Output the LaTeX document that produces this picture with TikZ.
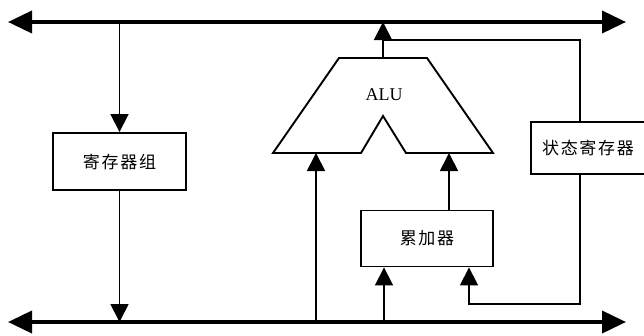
\documentclass[tikz,border=0pt]{standalone}
\usepackage{fontspec}
\setmainfont{Liberation Serif}
\newfontfamily\cjk[LetterSpace=10]{Noto Sans CJK SC}
\usetikzlibrary{arrows.meta}
\begin{document}
\begin{tikzpicture}[x=1pt,y=-1pt,
  bus/.style={line width=3.8pt,{Triangle[length=24pt,width=22pt]}-{Triangle[length=24pt,width=22pt]}},
  wire/.style={line width=1.8pt},
  arr/.style={wire,-{Triangle[length=18pt,width=18pt]}},
  blk/.style={draw,line width=1.9pt,inner sep=0pt,font=\fontsize{17pt}{17pt}\cjk},
  alushape/.style={draw,line width=1.9pt,line join=miter}]
\useasboundingbox (0,0) rectangle (644,335);
% bus coordinates
\coordinate (tl) at (8,22);
\coordinate (tr) at (626,22);
\coordinate (bl) at (8,322);
\coordinate (br) at (626,322);
% blocks
\node[blk,minimum width=133pt,minimum height=57pt] (reg) at (119.5,161.5) {寄存器组};
\node[blk,minimum width=132pt,minimum height=56pt] (acc) at (427,238.5) {累加器};
\node[blk,minimum width=114pt,minimum height=52pt] (status) at (588,148) {状态寄存器};
% ALU shape
\coordinate (a1) at (339,58);
\coordinate (a2) at (427,58);
\coordinate (a3) at (493,153);
\coordinate (a4) at (406,153);
\coordinate (a5) at (383,116);
\coordinate (a6) at (361,153);
\coordinate (a7) at (273,153);
\draw[alushape] (a1) -- (a2) -- (a3) -- (a4) -- (a5) -- (a6) -- (a7) -- cycle;
\node (alu) at (384,95) {\fontsize{18pt}{18pt}\selectfont ALU};
\coordinate (aluout) at (383,58);
\coordinate (inL) at (316,153);
\coordinate (inR) at (449,153);
\coordinate (fbx) at (580,40);
\coordinate (fbbot) at (580,304);
\coordinate (accinR) at (469,0);
\coordinate (accinB) at (384,322);
% connectors
\draw[arr] (reg.north |- tl) -- (reg.north);
\draw[arr] (reg.south) -- (reg.south |- bl);
\draw[arr] (aluout) -- (aluout |- tl);
\draw[wire] (aluout |- fbx) -- (fbx) -- (status.north -| fbx);
\draw[arr] (status.south -| fbx) -- (fbbot) -| (acc.south -| accinR);
\draw[arr] (inL |- bl) -- (inL);
\draw[arr] (acc.north -| inR) -- (inR);
\draw[arr] (accinB) -- (acc.south -| accinB);
% buses
\draw[bus] (tl) -- (tr);
\draw[bus] (bl) -- (br);
\end{tikzpicture}
\end{document}
